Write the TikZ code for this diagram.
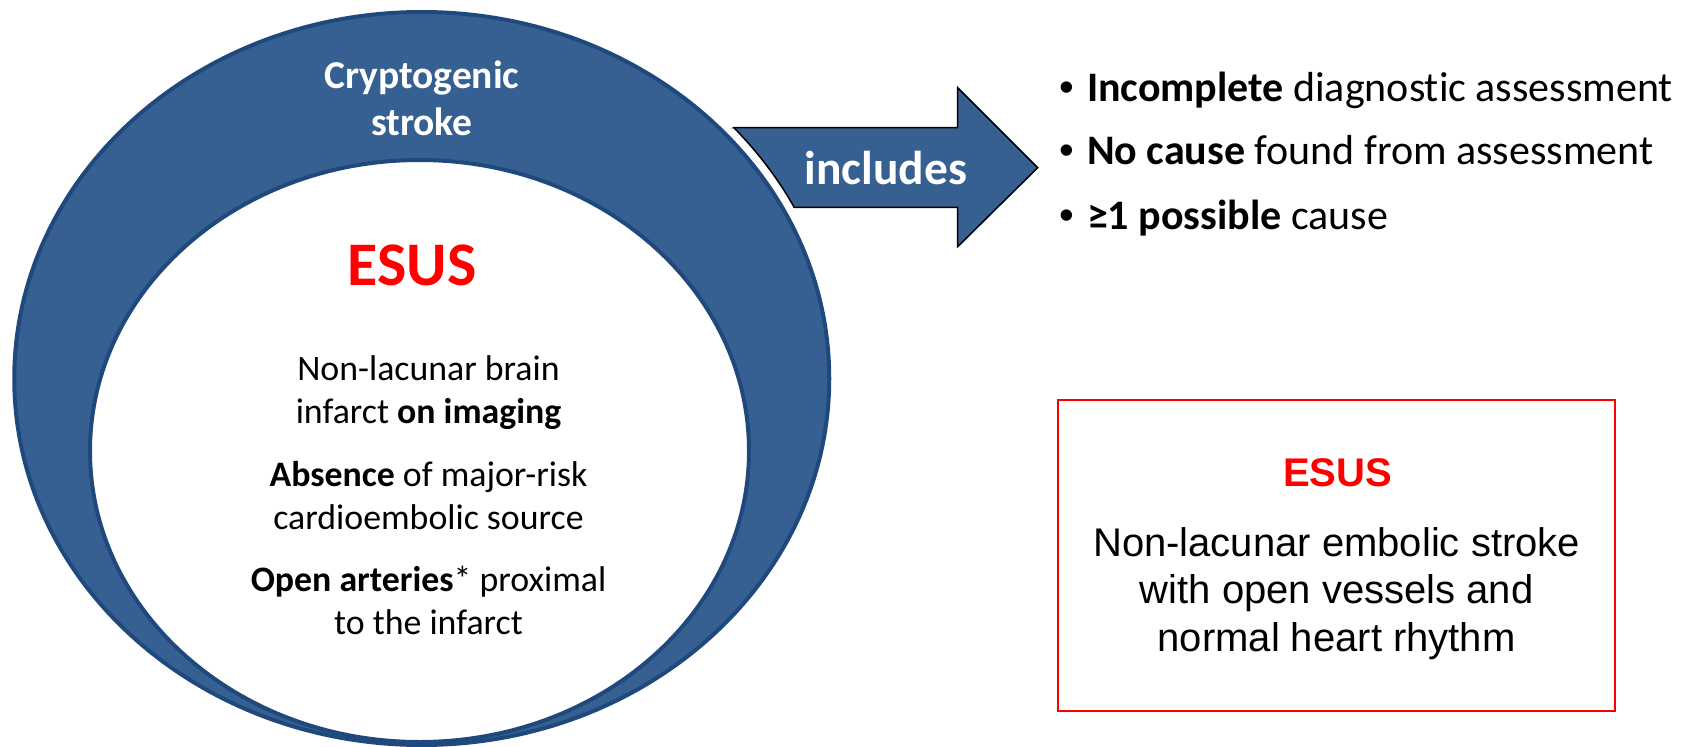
\documentclass[tikz,border=0pt]{standalone}
\usepackage{fontspec}
\setmainfont{Carlito}[Ligatures={NoCommon,NoRare}]
\newfontfamily\arialfont{Liberation Sans}
\definecolor{ringblue}{RGB}{55,96,146}
\definecolor{ringedge}{RGB}{31,73,125}
\definecolor{esusred}{RGB}{255,0,0}

\begin{document}
\begin{tikzpicture}[x=1pt,y=-1pt,
  every node/.style={inner sep=0pt, outer sep=0pt, anchor=base},
  ringlabel/.style={text=white, font=\bfseries\fontsize{39.5}{47}\selectfont},
  arrowlabel/.style={text=white, font=\bfseries\fontsize{47.5}{57}\selectfont},
  bigred/.style={text=esusred, font=\bfseries\fontsize{62}{74}\selectfont},
  bodyline/.style={font=\fontsize{35.8}{43}\selectfont},
  bulletline/.style={font=\fontsize{42}{50}\selectfont, anchor=base west},
  bulletdot/.style={font=\arialfont\fontsize{42}{50}\selectfont},
  boxhead/.style={text=esusred, font=\arialfont\bfseries\fontsize{40}{48}\selectfont},
  boxline/.style={font=\arialfont\fontsize{40}{48}\selectfont},
  ringshape/.style={fill=ringblue, draw=ringedge, line width=4pt},
  arrowshape/.style={fill=ringblue, draw=black, line width=1.5pt, line join=miter}]

\useasboundingbox (0,0) rectangle (1698,747);

% outer ring: cryptogenic stroke
\path[ringshape] (421.75,378.5) ellipse [x radius=407.5, y radius=366.5];
% inner disc: ESUS
\path[ringshape, fill=white] (419.5,451) ellipse [x radius=329.5, y radius=291];

% block arrow, its tail following the ring
\path[arrowshape] (733.8,127.7) -- (957.7,127.7) -- (957.7,87.7) -- (1037.7,167.7)
  -- (957.7,246.7) -- (957.7,207.3) -- (794.2,207.3)
  arc[start angle=-27, end angle=-41.7, x radius=418, y radius=377] -- cycle;

% ring labels
\node[ringlabel] (crypto1) at (421.8,88.5) {Cryptogenic};
\node[ringlabel] (crypto2) at (421.8,135.5) {stroke};
\node[arrowlabel] (includes) at (886,184) {includes};

% inner disc text
\node[bigred] (esus) at (412,285) {ESUS};
\node[bodyline] (b1) at (428.5,380) {Non-lacunar brain};
\node[bodyline] (b2) at (428.5,423) {infarct \textbf{on imaging}};
\node[bodyline] (b3) at (428.5,486) {\textbf{Absence} of major-risk};
\node[bodyline] (b4) at (428.5,529) {cardioembolic source};
\node[bodyline] (b5) at (428.5,591) {\textbf{Open arteries}* proximal};
\node[bodyline] (b6) at (428.5,634) {to the infarct};

% bullet list
\node[bulletdot] (d1) at (1067,101) {•};
\node[bulletdot] (d2) at (1067,164) {•};
\node[bulletdot] (d3) at (1067,229) {•};
\node[bulletline] (l1) at (1087,101) {\textbf{Incomplete} diagnostic assessment};
\node[bulletline] (l2) at (1087,164) {\textbf{No cause} found from assessment};
\node[bulletline] (l3) at (1087,229) {\textbf{≥1 possible} cause};

% definition box
\draw[esusred, line width=2pt] (1058,400) rectangle (1615,711);
\node[boxhead] (boxesus) at (1337.5,486.5) {ESUS};
\node[boxline] (c1) at (1336.6,556.5) {Non-lacunar embolic stroke};
\node[boxline] (c2) at (1336.6,603.5) {with open vessels and};
\node[boxline] (c3) at (1336.6,651) {normal heart rhythm};
\end{tikzpicture}
\end{document}
